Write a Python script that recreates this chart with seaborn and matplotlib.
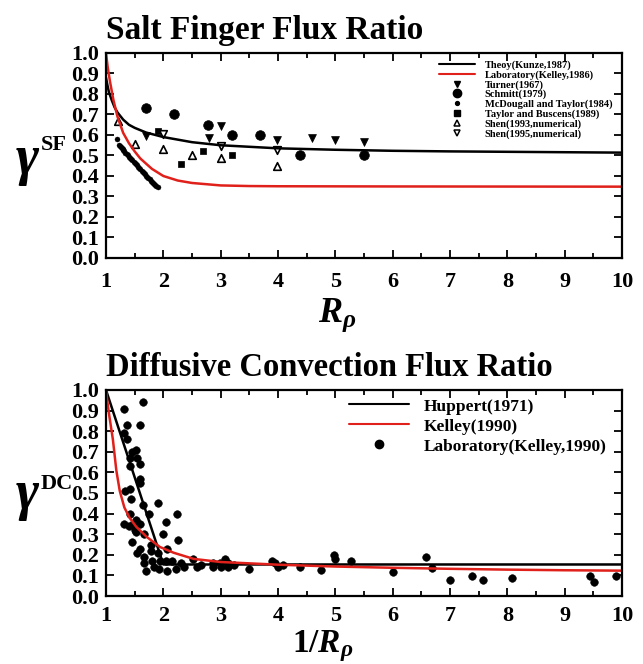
import numpy as np
import pandas as pd
import matplotlib
matplotlib.use("Agg")
import matplotlib.pyplot as plt
import seaborn as sns
from matplotlib.lines import Line2D
from matplotlib.ticker import MultipleLocator

# ---------------- data : Salt finger panel ----------------
kunze_x = [1.0, 1.02, 1.05, 1.1, 1.15, 1.2, 1.3, 1.4, 1.5, 1.7, 2.0, 2.5, 3.0, 4.0, 5.0, 6.0, 7.0, 8.0, 9.0, 10.0]
kunze_y = [0.88, 0.85, 0.81, 0.77, 0.735, 0.71, 0.675, 0.65, 0.635, 0.612, 0.59, 0.565, 0.55, 0.535, 0.528, 0.523, 0.52, 0.518, 0.516, 0.514]

kelley86_x = [1.0, 1.03, 1.07, 1.13, 1.2, 1.3, 1.4, 1.5, 1.6, 1.8, 2.0, 2.25, 2.5, 3.0, 3.5, 4.0, 6.0, 10.0]
kelley86_y = [1.0, 0.93, 0.86, 0.77, 0.69, 0.61, 0.56, 0.52, 0.485, 0.435, 0.40, 0.378, 0.366, 0.354, 0.351, 0.35, 0.349, 0.348]

turner_x = [1.69, 2.80, 3.0, 3.99, 4.59, 5.0, 5.5]
turner_y = [0.597, 0.587, 0.645, 0.577, 0.587, 0.577, 0.567]

schmitt_x = [1.70, 2.19, 2.78, 3.19, 3.69, 4.39, 5.5]
schmitt_y = [0.73, 0.70, 0.65, 0.60, 0.60, 0.50, 0.50]

mcd_x = [1.20, 1.23, 1.245, 1.26, 1.275, 1.29, 1.305, 1.32, 1.34, 1.36, 1.38, 1.40, 1.42, 1.44, 1.46, 1.48,
         1.50, 1.52, 1.54, 1.56, 1.58, 1.60, 1.62, 1.64, 1.66, 1.68, 1.70, 1.72, 1.74, 1.76, 1.78, 1.80,
         1.82, 1.84, 1.86, 1.88, 1.90]
mcd_y = [0.58, 0.551, 0.545, 0.540, 0.535, 0.530, 0.525, 0.520, 0.514, 0.507, 0.500, 0.494, 0.488, 0.482, 0.476, 0.470,
         0.464, 0.458, 0.452, 0.446, 0.440, 0.433, 0.426, 0.420, 0.414, 0.408, 0.402, 0.396, 0.390, 0.384, 0.378, 0.372,
         0.366, 0.360, 0.355, 0.351, 0.347]

tb_x = [1.90, 2.30, 2.69, 3.19]
tb_y = [0.62, 0.46, 0.52, 0.50]

shen93_x = [1.21, 1.50, 2.0, 2.5, 3.0, 3.99]
shen93_y = [0.67, 0.555, 0.53, 0.50, 0.49, 0.45]

shen95_x = [2.0, 3.0, 3.99]
shen95_y = [0.605, 0.546, 0.527]

# ---------------- data : Diffusive convection panel ----------------
huppert_x = [1.0, 2.0, 10.0]
huppert_y = [1.0, 0.153, 0.153]

kelley90_x = [1.0, 1.03, 1.06, 1.12, 1.18, 1.24, 1.32, 1.41, 1.53, 1.71, 1.94, 2.18, 2.53, 3.0, 4.0, 5.0, 6.0, 7.0, 8.0, 9.0, 10.0]
kelley90_y = [1.0, 0.93, 0.87, 0.76, 0.61, 0.51, 0.43, 0.38, 0.335, 0.287, 0.238, 0.21, 0.18, 0.165, 0.152, 0.143, 0.137, 0.132, 0.128, 0.125, 0.123]

lab_x = [1.65, 1.31, 1.36, 1.59, 1.31, 1.36, 1.45, 1.53, 1.41, 1.54, 1.42, 1.59, 1.59, 1.59,
         1.34, 1.42, 1.43, 1.65, 1.90, 1.41, 1.75, 2.24, 1.31, 1.52, 1.59, 1.47, 1.40, 1.50, 1.53,
         2.04, 1.66, 2.0, 2.25, 1.46, 1.78, 1.59, 2.07, 1.54, 1.78, 1.90, 1.66, 2.52, 1.66, 1.80,
         1.95, 2.04, 2.15, 2.31, 1.69, 1.84, 1.92, 2.06, 2.22, 2.36, 2.59, 2.65, 2.86, 2.86, 2.98,
         3.0, 3.08, 3.12, 3.12, 3.24, 3.5, 3.89, 3.94, 4.0, 4.08, 4.38, 4.75, 4.98, 5.0, 5.27,
         6.0, 6.58, 6.68, 7.0, 7.38, 7.58, 8.09, 9.45, 9.51, 9.9]
lab_y = [0.94, 0.91, 0.83, 0.83, 0.79, 0.76, 0.70, 0.71, 0.67, 0.67, 0.63, 0.64, 0.57, 0.55,
         0.51, 0.52, 0.47, 0.44, 0.45, 0.40, 0.40, 0.40, 0.35, 0.37, 0.35, 0.35, 0.34, 0.32, 0.31,
         0.36, 0.30, 0.30, 0.27, 0.26, 0.25, 0.23, 0.23, 0.21, 0.22, 0.21, 0.19, 0.18, 0.16, 0.17,
         0.17, 0.17, 0.17, 0.16, 0.12, 0.14, 0.13, 0.12, 0.13, 0.14, 0.14, 0.15, 0.14, 0.16, 0.16,
         0.14, 0.18, 0.16, 0.14, 0.15, 0.13, 0.17, 0.16, 0.14, 0.15, 0.14, 0.128, 0.20, 0.178, 0.169,
         0.118, 0.19, 0.138, 0.08, 0.099, 0.08, 0.089, 0.099, 0.07, 0.099]

x_ticks = list(range(1, 11))
y_ticks = [round(0.1 * i, 1) for i in range(11)]

RED = "#e0201a"

# ---------------- style ----------------
sns.set_theme(style="ticks")
plt.rcParams["font.family"] = ["Liberation Serif", "DejaVu Serif"]
plt.rcParams["font.weight"] = "bold"
for k in ["text.color", "axes.labelcolor", "xtick.color", "ytick.color", "axes.edgecolor"]:
    plt.rcParams[k] = "black"
plt.rcParams["mathtext.fontset"] = "custom"
plt.rcParams["mathtext.rm"] = "Liberation Serif:bold"
plt.rcParams["mathtext.bf"] = "Liberation Serif:bold"
plt.rcParams["mathtext.it"] = "Liberation Serif:italic:bold"

W, H = 643, 664
fig = plt.figure(figsize=(W / 100, H / 100), dpi=100)
ax1 = fig.add_axes([106 / W, 1 - 258 / H, 516 / W, 205 / H])
ax2 = fig.add_axes([106 / W, 1 - 596 / H, 516 / W, 206 / H])


def style_axes(ax, xpad):
    ax.set_xlim(1, 10)
    ax.set_ylim(0, 1.0)
    ax.set_xticks(x_ticks)
    ax.set_yticks(y_ticks)
    ax.set_xticklabels([str(v) for v in x_ticks])
    ax.set_yticklabels([f"{v:.1f}" for v in y_ticks])
    ax.xaxis.set_minor_locator(MultipleLocator(0.5))
    ax.tick_params(axis="both", which="both", direction="in", top=True, right=True,
                   width=1.3, labelsize=16, colors="black")
    ax.tick_params(axis="both", which="major", length=5.5)
    ax.tick_params(axis="both", which="minor", length=3.5)
    ax.tick_params(axis="x", which="major", pad=xpad)
    ax.tick_params(axis="y", which="major", pad=5)
    for lab in ax.get_xticklabels() + ax.get_yticklabels():
        lab.set_fontweight("bold")
    for sp in ax.spines.values():
        sp.set_visible(True)
        sp.set_linewidth(1.6)
        sp.set_color("black")
    ax.set_xlabel("")
    ax.set_ylabel("")


def px(x, y):
    return x / W, 1 - y / H


def gamma_label(sup, yc_gamma, yc_sup):
    fig.text(*px(27, yc_gamma), "\u03b3", fontsize=40, style="italic", weight="bold",
             ha="center", va="center", family="Liberation Serif")
    fig.text(*px(41, yc_sup), sup, fontsize=16, weight="bold",
             ha="left", va="center", family="Liberation Serif")


# ---------------- top panel ----------------
sns.lineplot(x=kunze_x, y=kunze_y, ax=ax1, color="black", lw=1.8, sort=False, estimator=None)
sns.lineplot(x=kelley86_x, y=kelley86_y, ax=ax1, color=RED, lw=1.8, sort=False, estimator=None)
sns.scatterplot(x=turner_x, y=turner_y, ax=ax1, marker="v", s=32, color="black", edgecolor="black", linewidth=0.5)
sns.scatterplot(x=schmitt_x, y=schmitt_y, ax=ax1, marker="o", s=48, color="black", edgecolor="black", linewidth=0.5)
sns.scatterplot(x=mcd_x, y=mcd_y, ax=ax1, marker="o", s=13, color="black", edgecolor="black", linewidth=0.3)
sns.scatterplot(x=tb_x, y=tb_y, ax=ax1, marker="s", s=22, color="black", edgecolor="black", linewidth=0.5)
sns.scatterplot(x=shen93_x, y=shen93_y, ax=ax1, marker="^", s=30, facecolor="white", edgecolor="black", linewidth=1.2)
sns.scatterplot(x=shen95_x, y=shen95_y, ax=ax1, marker="v", s=30, facecolor="white", edgecolor="black", linewidth=1.2)
style_axes(ax1, 10)
ax1.set_title("Salt Finger Flux Ratio", loc="left", fontsize=24, fontweight="bold", pad=10)
gamma_label("SF", 160, 145)
fig.text(*px(318, 322), r"$\mathit{R_{\rho}}$", fontsize=26, ha="left", va="baseline")

h1 = [
    Line2D([], [], color="black", lw=1.5),
    Line2D([], [], color=RED, lw=1.5),
    Line2D([], [], color="black", marker="v", ls="none", ms=4.5),
    Line2D([], [], color="black", marker="o", ls="none", ms=6),
    Line2D([], [], color="black", marker="o", ls="none", ms=2.8),
    Line2D([], [], color="black", marker="s", ls="none", ms=4),
    Line2D([], [], color="black", marker="^", ls="none", ms=4.5, mfc="white", mew=1.1),
    Line2D([], [], color="black", marker="v", ls="none", ms=4.5, mfc="white", mew=1.1),
]
l1 = ["Theoy(Kunze,1987)", "Laboratory(Kelley,1986)", "Turner(1967)", "Schmitt(1979)",
      "McDougall and Taylor(1984)", "Taylor and Buscens(1989)", "Shen(1993,numerical)",
      "Shen(1995,numerical)"]
ax1.legend(h1, l1, loc="upper right", bbox_to_anchor=(0.995, 1.0), frameon=False,
           prop={"family": "Liberation Serif", "weight": "bold", "size": 7.5},
           handlelength=3.5, labelspacing=0.02, handletextpad=0.9, borderpad=0.4,
           borderaxespad=0.3)

# ---------------- bottom panel ----------------
sns.lineplot(x=huppert_x, y=huppert_y, ax=ax2, color="black", lw=1.8, sort=False, estimator=None)
sns.lineplot(x=kelley90_x, y=kelley90_y, ax=ax2, color=RED, lw=1.8, sort=False, estimator=None)
sns.scatterplot(x=lab_x, y=lab_y, ax=ax2, marker="o", s=30, color="black", edgecolor="black", linewidth=0.4)
style_axes(ax2, 7)
ax2.set_title("Diffusive Convection Flux Ratio", loc="left", fontsize=23.5, fontweight="bold", pad=10)
gamma_label("DC", 495, 484)
fig.text(*px(292, 652), r"$\mathit{1/R_{\rho}}$", fontsize=24, ha="left", va="baseline")

h2 = [
    Line2D([], [], color="black", lw=1.5),
    Line2D([], [], color=RED, lw=1.5),
    Line2D([], [], color="black", marker="o", ls="none", ms=6),
]
l2 = ["Huppert(1971)", "Kelley(1990)", "Laboratory(Kelley,1990)"]
ax2.legend(h2, l2, loc="upper right", bbox_to_anchor=(1.0, 1.035), frameon=False,
           prop={"family": "Liberation Serif", "weight": "bold", "size": 12.5},
           handlelength=3.45, labelspacing=0.22, handletextpad=0.86, borderpad=0.4)

fig.savefig("out.png", dpi=100)
